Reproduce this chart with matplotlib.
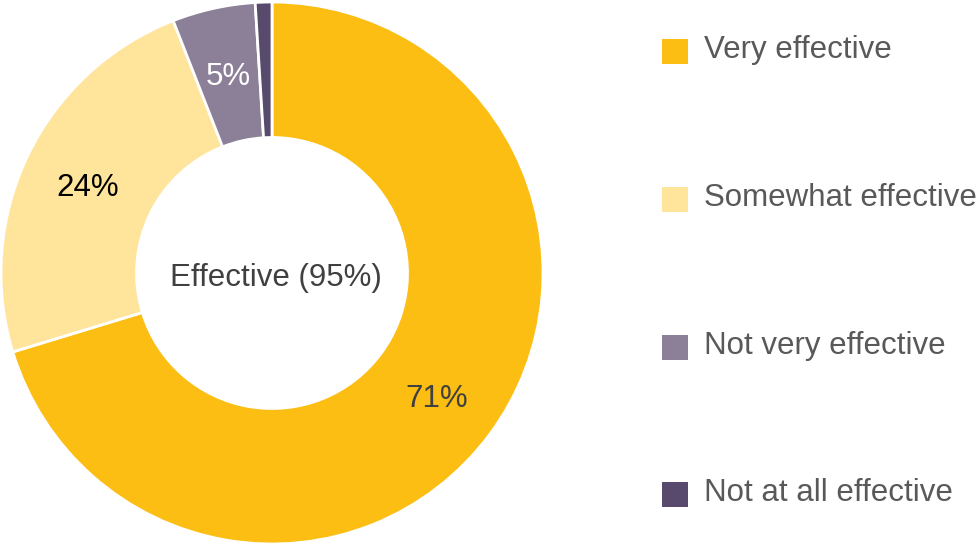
import matplotlib.pyplot as plt
from matplotlib.patches import Rectangle
import numpy as np

plt.rcParams['font.family'] = ['Liberation Sans', 'DejaVu Sans']

categories = ['Very effective', 'Somewhat effective', 'Not very effective', 'Not at all effective']
values = [71, 24, 5, 1]
labels = ['71%', '24%', '5%', '']
colors = ['#FCBE13', '#FFE49B', '#8C8099', '#584A6C']
label_colors = ['#404040', '#000000', '#FFFFFF', '#FFFFFF']
center_text = 'Effective (95%)'

W, H = 979, 546
fig = plt.figure(figsize=(W / 100, H / 100), dpi=100)

# donut: centre (272, 273) px, outer radius 271 px
cx, cy, r = 272, 273, 271
ax = fig.add_axes([(cx - r) / W, (H - cy - r) / H, 2 * r / W, 2 * r / H])
wedges, texts = ax.pie(values, colors=colors, startangle=90, counterclock=False,
                       radius=1.0,
                       wedgeprops=dict(width=0.5, edgecolor='white', linewidth=2))
ax.set_xlim(-1, 1)
ax.set_ylim(-1, 1)
ax.set_aspect('equal')
ax.axis('off')

# percentage labels in the middle of the ring
for w, lab, col in zip(wedges, labels, label_colors):
    if not lab:
        continue
    ang = np.deg2rad((w.theta1 + w.theta2) / 2)
    ax.text(0.755 * np.cos(ang), 0.755 * np.sin(ang) - 0.015, lab, ha='center', va='center',
            fontsize=22.5, color=col)

ax.text(0.015, -0.02, center_text, ha='center', va='center', fontsize=22.5, color='#404040')

# legend drawn by hand down the right side
baselines = [58, 206, 354, 501]
for name, col, b in zip(categories, colors, baselines):
    fig.add_artist(Rectangle((662 / W, 1 - (b + 6) / H), 26 / W, 25 / H,
                             transform=fig.transFigure, facecolor=col, edgecolor='none'))
    fig.text(704 / W, 1 - b / H, name, ha='left', va='baseline', fontsize=22.5, color='#595959')

fig.savefig('out.png', dpi=100, facecolor='white')
